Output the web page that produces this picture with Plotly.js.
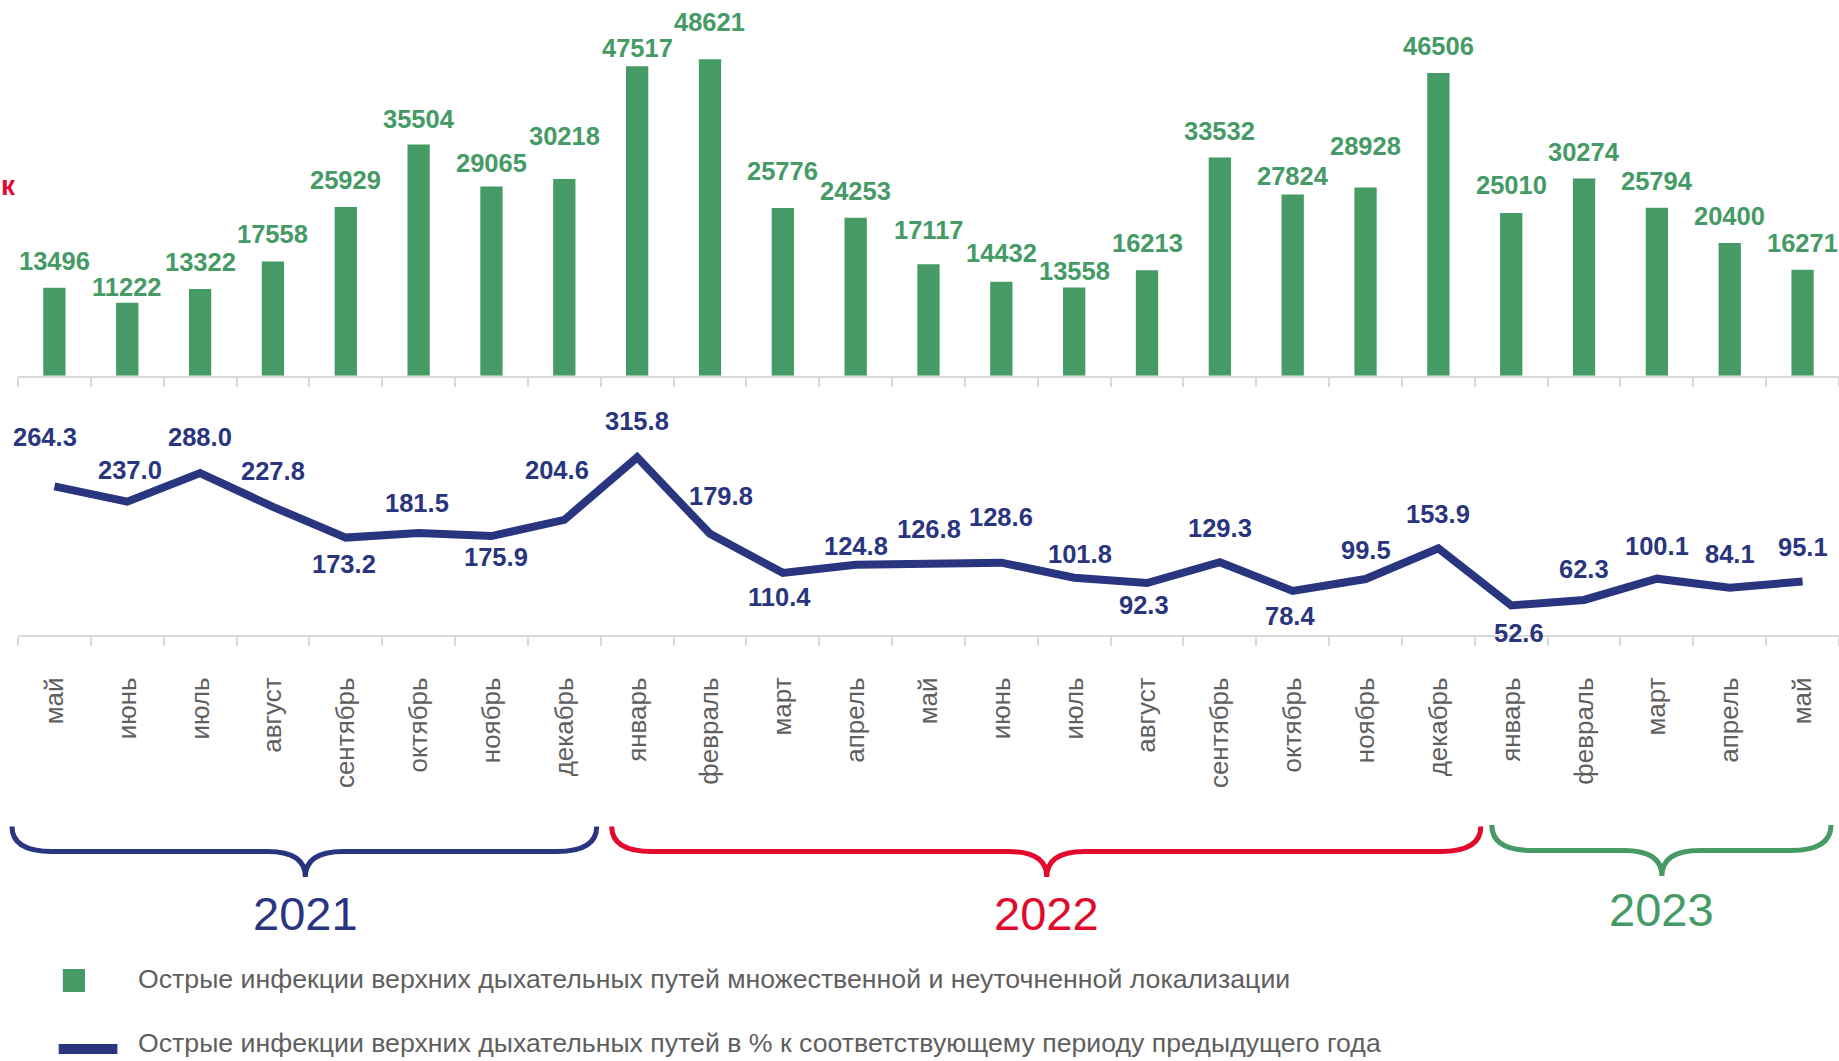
<!DOCTYPE html>
<html>
<head>
<meta charset="utf-8">
<script src="https://cdn.plot.ly/plotly-3.0.1.min.js"></script>
<style>
  html, body { margin: 0; padding: 0; background: #ffffff; }
  #chart { width: 1839px; height: 1061px; }
</style>
</head>
<body>
<div id="chart"></div>
<script>
// ---------------- DATA ----------------
const months = ['май','июнь','июль','август','сентябрь','октябрь','ноябрь','декабрь',
                'январь','февраль','март','апрель','май','июнь','июль','август','сентябрь','октябрь','ноябрь','декабрь',
                'январь','февраль','март','апрель','май'];
const cases = [13496,11222,13322,17558,25929,35504,29065,30218,
               47517,48621,25776,24253,17117,14432,13558,16213,33532,27824,28928,46506,
               25010,30274,25794,20400,16271];
const pctPrevYear = [264.3,237.0,288.0,227.8,173.2,181.5,175.9,204.6,
                     315.8,179.8,110.4,124.8,126.8,128.6,101.8,92.3,129.3,78.4,99.5,153.9,
                     52.6,62.3,100.1,84.1,95.1];
const years = ['2021','2022','2023'];
const yearCounts = [8,12,5];
const seriesNames = [
  'Острые инфекции верхних дыхательных путей множественной и неуточненной локализации',
  'Острые инфекции верхних дыхательных путей в % к соответствующему периоду предыдущего года'
];

// ---------------- STYLE ----------------
const GREEN = '#459a66', NAVY = '#2a3580', RED = '#e20a2c', GRAY = '#5f5f5f', AXIS = '#d9d9d9';
const yearColors = [NAVY, RED, GREEN];
const FONT = 'Liberation Sans, Arial, sans-serif';
// label offsets (px) to mimic the manual label placement of the original
const barLabelLift = [27,16,27,27,27,26,23,43,18,37,37,27,34,29,16,27,26,19,41,27,28,27,27,27,27];
const lineLabelDy  = [-49,-32,-36,-36,26,-30,21,-50,-36,-38,24,-19,-35,-46,-24,22,-34,25,-29,-34,28,-31,-33,-34,-35];
const lineLabelDx  = [-9,3,0,0,-2,-2,5,-7,0,11,-3,0,0,0,6,-3,0,-3,0,0,8,0,0,0,0];
const bracePad = [[-6,-4,-4],[11,6,9],[17,-8,5]]; // left pad, right pad, tip shift (px)

// ---------------- GEOMETRY ----------------
const PAGE_W = 1839, PAGE_H = 1061;
const M = {l: 18, r: 0, t: 0, b: 426};
const W = PAGE_W - M.l - M.r, H = PAGE_H - M.t - M.b;
const px2x = px => (px - M.l) / W;
const py2y = py => 1 - (py - M.t) / H;
const n = months.length;
const idx = months.map((m, i) => i);
const bounds = [];
for (let i = 0; i <= n; i++) bounds.push(i - 0.5);
const catPx = v => M.l + (v + 0.5) * W / n;

const barDomain = [0.4083, 1];
const lineDomain = [0, 0.38];
const barMax = 57708;
const lineMax = lineDomain[1] * H / 0.5625;

// ---------------- TRACES ----------------
const traces = [
  {
    type: 'bar', x: idx, y: cases, name: seriesNames[0],
    xaxis: 'x', yaxis: 'y', width: 0.306,
    marker: {color: GREEN}, hoverinfo: 'y', showlegend: false
  },
  {
    type: 'scatter', mode: 'lines', x: idx, y: pctPrevYear, name: seriesNames[1],
    xaxis: 'x2', yaxis: 'y2',
    line: {color: NAVY, width: 8, shape: 'linear'}, hoverinfo: 'y', showlegend: false
  }
];

// ---------------- ANNOTATIONS ----------------
const annotations = [];
cases.forEach((v, i) => annotations.push({
  x: i, y: v, xref: 'x', yref: 'y', text: String(v), showarrow: false,
  xanchor: 'center', yanchor: 'middle', yshift: barLabelLift[i],
  font: {family: FONT, size: 25.5, color: GREEN, weight: 'bold'}
}));
pctPrevYear.forEach((v, i) => annotations.push({
  x: i, y: v, xref: 'x2', yref: 'y2', text: v.toFixed(1), showarrow: false,
  xanchor: 'center', yanchor: 'middle', yshift: -lineLabelDy[i], xshift: lineLabelDx[i],
  font: {family: FONT, size: 25.5, color: NAVY, weight: 'bold'}
}));

// braces + year labels
const shapes = [];
let start = 0;
years.forEach((yr, g) => {
  const leftPx = catPx(start - 0.5) + bracePad[g][0];
  const rightPx = catPx(start + yearCounts[g] - 0.5) + bracePad[g][1];
  const tipPx = (catPx(start - 0.5) + catPx(start + yearCounts[g] - 0.5)) / 2 + bracePad[g][2];
  const yTop = g === 2 ? 825 : 826.5, yH = g === 2 ? 850.5 : 851.5, yTip = g === 2 ? 876 : 877;
  const r = 40, r2 = 38;
  const P = (x, y) => px2x(x).toFixed(5) + ',' + py2y(y).toFixed(5);
  const path = 'M' + P(leftPx, yTop) +
    ' Q' + P(leftPx, yH) + ' ' + P(leftPx + r, yH) +
    ' L' + P(tipPx - r2, yH) +
    ' Q' + P(tipPx, yH) + ' ' + P(tipPx, yTip) +
    ' Q' + P(tipPx, yH) + ' ' + P(tipPx + r2, yH) +
    ' L' + P(rightPx - r, yH) +
    ' Q' + P(rightPx, yH) + ' ' + P(rightPx, yTop);
  shapes.push({type: 'path', xref: 'paper', yref: 'paper', path: path,
               line: {color: yearColors[g], width: 5}});
  annotations.push({
    x: px2x(tipPx), y: py2y(g === 2 ? 910 : 913.5), xref: 'paper', yref: 'paper',
    text: yr, showarrow: false, xanchor: 'center', yanchor: 'middle',
    font: {family: FONT, size: 47, color: yearColors[g]}
  });
  start += yearCounts[g];
});

// custom legend
shapes.push({type: 'rect', xref: 'paper', yref: 'paper',
  x0: px2x(62.8), x1: px2x(85), y0: py2y(969), y1: py2y(992),
  fillcolor: GREEN, line: {width: 0}});
shapes.push({type: 'line', xref: 'paper', yref: 'paper',
  x0: px2x(58.7), x1: px2x(117.4), y0: py2y(1049), y1: py2y(1049),
  line: {color: NAVY, width: 10}});
annotations.push({x: px2x(136), y: py2y(979), xref: 'paper', yref: 'paper',
  text: seriesNames[0], showarrow: false, xanchor: 'left', yanchor: 'middle',
  font: {family: FONT, size: 26.7, color: GRAY}});
annotations.push({x: px2x(136), y: py2y(1043), xref: 'paper', yref: 'paper',
  text: seriesNames[1], showarrow: false, xanchor: 'left', yanchor: 'middle',
  font: {family: FONT, size: 26.7, color: GRAY}});

// red fragment at the left edge
annotations.push({x: px2x(0), y: py2y(186), xref: 'paper', yref: 'paper',
  text: 'к', showarrow: false, xanchor: 'left', yanchor: 'middle', borderpad: 0,
  font: {family: FONT, size: 28, color: RED, weight: 'bold'}});

// ---------------- LAYOUT ----------------
const xBase = {
  range: [-0.5, n - 0.5], showgrid: false, zeroline: false,
  showline: true, linecolor: AXIS, linewidth: 2,
  tickmode: 'array', tickvals: idx, ticks: '',
  minor: {tickmode: 'array', tickvals: bounds, ticks: 'outside', ticklen: 9, tickwidth: 2, tickcolor: AXIS, showgrid: false}
};
const layout = {
  width: PAGE_W, height: PAGE_H,
  margin: M, paper_bgcolor: '#ffffff', plot_bgcolor: 'rgba(0,0,0,0)',
  showlegend: false,
  font: {family: FONT},
  xaxis: Object.assign({}, xBase, {anchor: 'y', showticklabels: false}),
  xaxis2: Object.assign({}, xBase, {anchor: 'y2', showticklabels: true, ticktext: months,
          tickangle: -90, ticklabelstandoff: 30,
          tickfont: {family: FONT, size: 26, color: GRAY}}),
  yaxis: {domain: barDomain, range: [0, barMax], visible: false, fixedrange: true},
  yaxis2: {domain: lineDomain, range: [0, lineMax], visible: false, fixedrange: true},
  annotations: annotations,
  shapes: shapes
};

Plotly.newPlot('chart', traces, layout, {displayModeBar: false, responsive: false, staticPlot: true});
</script>
</body>
</html>
